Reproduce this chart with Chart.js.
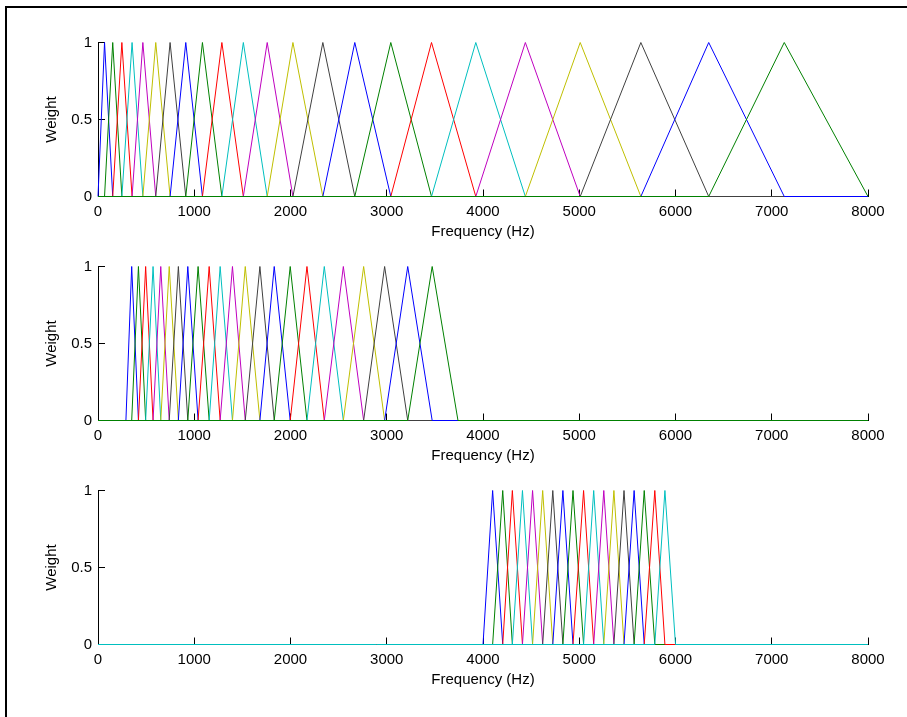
<!DOCTYPE html>
<html><head><meta charset="utf-8">
<script src="https://cdn.jsdelivr.net/npm/chart.js@4.4.1/dist/chart.umd.min.js"></script>
<style>
html,body{margin:0;padding:0;background:#fff;overflow:hidden;}
#wrap{position:relative;width:907px;height:717px;overflow:hidden;}
#frame{position:absolute;left:5px;top:6px;width:920px;height:730px;border-top:2px solid #000;border-left:2px solid #000;}
canvas{position:absolute;left:0;}
</style></head><body>
<div id="wrap"><div id="frame"></div>
<canvas id="c1" width="907" height="245" style="top:0px"></canvas>
<canvas id="c2" width="907" height="245" style="top:224px"></canvas>
<canvas id="c3" width="907" height="245" style="top:448px"></canvas>
</div>
<script>
// Tick values / labels
const xTickValues = [0, 1000, 2000, 3000, 4000, 5000, 6000, 7000, 8000];
const xTickLabels = ['0', '1000', '2000', '3000', '4000', '5000', '6000', '7000', '8000'];
const yTickValues = [0, 0.5, 1];
const yTickLabels = ['0', '0.5', '1'];
const xAxisTitle = 'Frequency (Hz)';
const yAxisTitle = 'Weight';
const peakWeight = 1;

// Filter edge frequencies (Hz): filter k rises from edges[k], peaks at edges[k+1], falls to edges[k+2]
const topEdges = [0, 68, 153, 248, 354, 466, 600, 749, 912, 1085, 1287, 1510, 1758, 2025, 2336, 2668, 3042, 3465, 3925, 4440, 5010, 5640, 6345, 7130, 8000];
const midEdges = [290, 350, 420, 495, 572, 652, 740, 835, 933, 1040, 1155, 1269, 1397, 1530, 1682, 1831, 1997, 2171, 2351, 2549, 2760, 2978, 3218, 3472, 3740];
const botEdges = [4000, 4100, 4205, 4305, 4410, 4515, 4620, 4725, 4830, 4935, 5045, 5150, 5255, 5360, 5465, 5570, 5675, 5785, 5890, 6000];

// MATLAB default line colour order
const seriesColors = ['#0000ff', '#008000', '#ff0000', '#00bfbf', '#bf00bf', '#bfbf00', '#404040'];

Chart.defaults.color = '#000';
Chart.defaults.font.family = '"Liberation Sans", Arial, sans-serif';
Chart.defaults.font.size = 15;

function buildDatasets(edges) {
  const n = edges.length - 2;
  const xMin = xTickValues[0], xMax = xTickValues[xTickValues.length - 1];
  const ds = [];
  for (let k = 0; k < n; k++) {
    ds.push({
      data: [
        {x: xMin, y: 0},
        {x: edges[k], y: 0},
        {x: edges[k + 1], y: peakWeight},
        {x: edges[k + 2], y: 0},
        {x: xMax, y: 0}
      ],
      showLine: true,
      borderColor: seriesColors[k % seriesColors.length],
      backgroundColor: seriesColors[k % seriesColors.length],
      borderWidth: 1,
      pointRadius: 0,
      tension: 0,
      fill: false,
      clip: false,
      order: n - k
    });
  }
  return ds;
}

function makeChart(id, edges) {
  return new Chart(document.getElementById(id), {
    type: 'scatter',
    data: { datasets: buildDatasets(edges) },
    options: {
      responsive: false,
      animation: false,
      devicePixelRatio: 1,
      layout: { padding: { top: 42.5, left: 0, right: 39, bottom: 0 } },
      plugins: { legend: { display: false }, tooltip: { enabled: false } },
      scales: {
        x: {
          type: 'linear',
          min: xTickValues[0],
          max: xTickValues[xTickValues.length - 1],
          afterBuildTicks: (ax) => { ax.ticks = xTickValues.map(v => ({ value: v })); },
          ticks: {
            padding: 13,
            maxRotation: 0,
            autoSkip: false,
            callback: (v) => xTickLabels[xTickValues.indexOf(v)]
          },
          grid: { drawOnChartArea: false, tickLength: -7, color: '#000' },
          border: { display: false },
          title: { display: true, text: xAxisTitle, padding: { top: 0, bottom: 4 } },
          afterFit: (ax) => { ax.height = 48.5; }
        },
        y: {
          type: 'linear',
          min: yTickValues[0],
          max: yTickValues[yTickValues.length - 1],
          afterBuildTicks: (ax) => { ax.ticks = yTickValues.map(v => ({ value: v })); },
          ticks: {
            padding: 13,
            autoSkip: false,
            callback: (v) => yTickLabels[yTickValues.indexOf(v)]
          },
          grid: { drawOnChartArea: false, tickLength: -7, color: '#000' },
          border: { display: true, color: '#000', width: 1 },
          title: { display: true, text: yAxisTitle, padding: { top: 43, bottom: 0 } },
          afterFit: (ax) => { ax.width = 98; }
        }
      }
    }
  });
}

makeChart('c1', topEdges);
makeChart('c2', midEdges);
makeChart('c3', botEdges);
</script>
</body></html>
